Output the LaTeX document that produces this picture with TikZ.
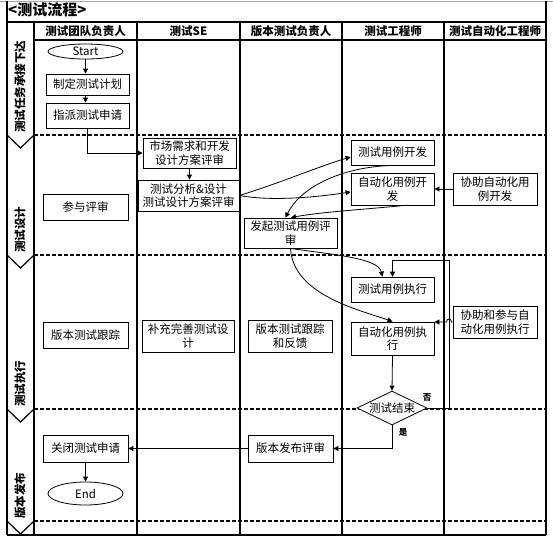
\documentclass[tikz,border=0pt]{standalone}
\usepackage{fontspec}
\setmainfont{Noto Sans CJK SC}
\usetikzlibrary{arrows.meta,shapes.geometric,calc}
\newcommand\bodyfs{\fontsize{11.5}{13.5}\selectfont}
\begin{document}
\begin{tikzpicture}[x=1pt,y=-1pt,
  frameline/.style={line width=1.3pt},
  sepline/.style={line width=1.5pt, dash pattern=on 3.5pt off 2.5pt},
  box/.style={draw, fill=white, line width=0.8pt, inner sep=0pt, align=center, font=\bodyfs},
  term/.style={box, ellipse},
  decide/.style={box, diamond, aspect=2},
  head/.style={font=\bodyfs\bfseries, inner sep=0pt},
  phase/.style={font=\bodyfs\bfseries, inner sep=0pt, rotate=90, anchor=west},
  ttl/.style={font=\fontsize{15}{17}\selectfont\bfseries, inner sep=0pt, anchor=west},
  yn/.style={font=\fontsize{8.5}{10}\selectfont\bfseries, inner sep=0pt},
  arr/.style={-{Triangle[length=5pt,width=5pt]}, line width=0.8pt}]
\useasboundingbox (0,0) rectangle (553,539);

% outer frame and title bar
\draw[gray!70, line width=1pt] (0,1) -- (553,1);
\node[ttl] (title) at (8,10) {<测试流程>};
\draw[frameline] (7,1) -- (7,535);
\draw[frameline] (546,1) -- (546,535);
\draw[frameline] (7,22) -- (546,22);
\draw[frameline] (34,40) -- (546,40);
\draw[frameline] (7,535) -- (546,535);
\foreach \lx in {34,137,240,342,444}
  \draw[frameline] (\lx,22) -- (\lx,535);

% lane headers
\node[head] (h1) at (85.5,31) {测试团队负责人};
\node[head] (h2) at (188.5,31) {测试SE};
\node[head] (h3) at (291,31) {版本测试负责人};
\node[head] (h4) at (393,31) {测试工程师};
\node[head] (h5) at (495,31) {测试自动化工程师};

% phase separators with chevrons
\foreach \sy in {135,255,409,521}{
  \draw[sepline] (34,\sy) -- (546,\sy);
  \draw[line width=1.2pt] (7,\sy) -- (20.5,\sy+13) -- (34,\sy);
}

% phase labels
\node[phase] (p1) at (20,133) {测试任务承接下达};
\node[phase] (p2) at (20,253) {测试设计};
\node[phase] (p3) at (20,407) {测试执行};
\node[phase] (p4) at (20,519) {版本发布};

% lane 1: test team lead
\node[term, minimum width=75pt, minimum height=15pt] (start) at (85.5,51.5) {Start};
\node[box, minimum width=83pt, minimum height=21pt] (plan) at (87.5,84.5) {制定测试计划};
\node[box, minimum width=83pt, minimum height=25pt] (assign) at (87.5,115.5) {指派测试申请};
\node[box, minimum width=85pt, minimum height=26pt] (join) at (85.5,207) {参与评审};
\node[box, minimum width=85pt, minimum height=26pt] (track) at (85.5,335) {版本测试跟踪};
\node[box, minimum width=85pt, minimum height=27pt] (close) at (85.5,448.5) {关闭测试申请};
\node[term, minimum width=75pt, minimum height=23pt] (end) at (85.5,493.5) {End};

% lane 2: test SE
\node[box, minimum width=93pt, minimum height=30pt] (mkt) at (189.5,153) {市场需求和开发\\设计方案评审};
\node[box, minimum width=101pt, minimum height=31pt] (ana) at (188.5,195.5) {测试分析\&设计\\测试设计方案评审};
\node[box, minimum width=92pt, minimum height=32pt] (supp) at (188,336) {补充完善测试设\\计};

% lane 3: release test lead
\node[box, minimum width=93pt, minimum height=30pt] (review) at (290.5,233) {发起测试用例评\\审};
\node[box, minimum width=84pt, minimum height=32pt] (fb) at (290,336) {版本测试跟踪\\和反馈};
\node[box, minimum width=85pt, minimum height=27pt] (rel) at (290.5,448.5) {版本发布评审};

% lane 4: test engineer
\node[box, minimum width=83pt, minimum height=25pt] (tdev) at (392.5,152.5) {测试用例开发};
\node[box, minimum width=83pt, minimum height=32pt] (adev) at (392.5,189) {自动化用例开\\发};
\node[box, minimum width=83pt, minimum height=25pt] (texe) at (392.5,289.5) {测试用例执行};
\node[box, minimum width=83pt, minimum height=33pt] (aexe) at (392.5,338.5) {自动化用例执\\行};
\node[decide, minimum width=70pt, minimum height=34pt] (dec) at (392,408) {测试结束};

% lane 5: automation engineer
\node[box, minimum width=84pt, minimum height=32pt] (hdev) at (495,189) {协助自动化用\\例开发};
\node[box, minimum width=84pt, minimum height=32pt] (hexe) at (495,322) {协助和参与自\\动化用例执行};

% decision labels
\node[yn] (no) at (427,397) {否};
\node[yn] (yes) at (403,432) {是};

% connectors
\draw[arr] (start.south) -- (start.south |- plan.north);
\draw[arr] (start.south |- plan.south) -- (start.south |- assign.north);
\draw[arr] (assign.south) |- (mkt.west);
\draw[arr] (mkt.south) -- (mkt.south |- ana.north);
\draw[arr] (ana.east) .. controls (280,183) and (320,166) .. ($(tdev.west)+(0,4.5)$);
\draw[arr] (ana.east) .. controls (270,201) and (310,198) .. ($(adev.west)+(0,3)$);
\draw[arr] (hdev.west) -- (adev.east);
\draw[arr] (tdev.south) .. controls (340,167) and (300,188) .. ($(review.north)+(-5,0)$);
\draw[arr] ($(adev.south)+(12,0)$) .. controls (370,209) and (320,212) .. ($(review.north)+(0.5,0)$);
\draw[arr] (review.south) .. controls (293,295) and (360,310) .. (aexe.north);
\draw[arr] (review.south) .. controls (335,255) and (378,258) .. ($(texe.north)+(-10,0)$);
\draw[arr] (aexe.south) -- (dec.north);
\coordinate (loop) at (449,260);
\draw[arr] (dec.east) -| (loop) -| (texe.north);
\draw[arr] (hexe.west) -- (451.5,322) .. controls (451.5,318) and (446.5,318) .. (446.5,322) -- (hexe.west -| aexe.east);
\draw[arr] (dec.south) |- (rel.east);
\draw[arr] (rel.west) -- (close.east);
\draw[arr] (close.south) -- (close.south |- end.north);
\end{tikzpicture}
\end{document}
